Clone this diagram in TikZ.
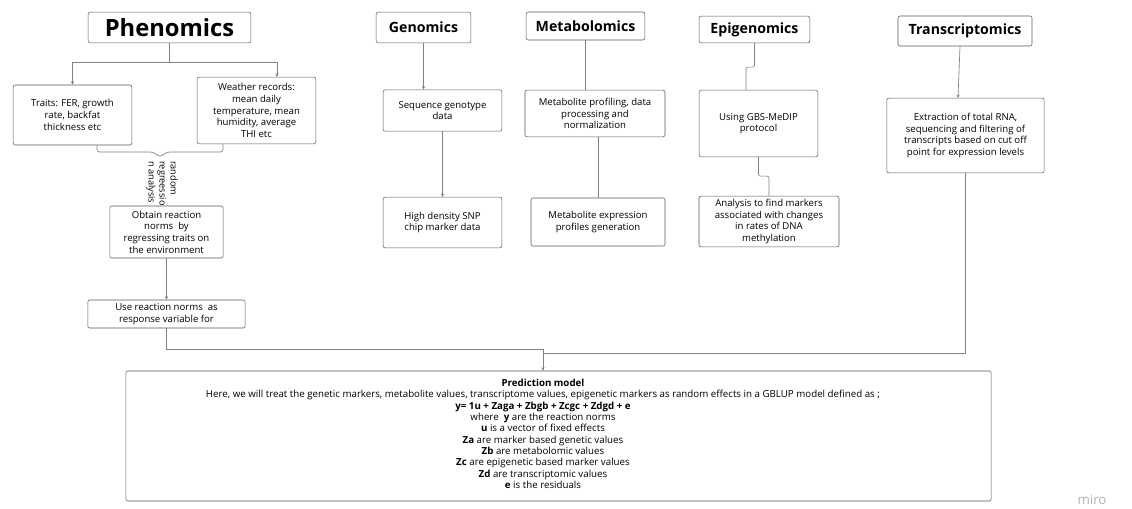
\documentclass[tikz,border=0pt]{standalone}
\usepackage{fontspec}
\setmainfont{Open Sans}
\usetikzlibrary{arrows.meta,calc,positioning}

\begin{document}
\begin{tikzpicture}[x=0.75pt, y=-0.75pt,
    box/.style={draw=black!65, rounded corners=1.5pt, align=center, inner sep=2pt,
                font=\fontsize{7.2}{8.8}\selectfont},
    headbox/.style={box, font=\fontsize{10.6}{12}\selectfont\bfseries},
    link/.style={draw=black!50, line width=0.5pt},
    arr/.style={link, -{Stealth[length=2.6pt, width=2.4pt]}}]
    \useasboundingbox (0,0) rectangle (1132,508);

    % Phenomics branch
    \node[headbox, font=\fontsize{17.8}{20}\selectfont\bfseries, minimum width=122pt, minimum height=23pt] (phen) at (169.5,27.5) {Phenomics};
    \node[box, minimum width=89pt, minimum height=45pt] (traits) at (72.5,115) {Traits: FER, growth\\rate, backfat\\thickness etc};
    \node[box, minimum width=89pt, minimum height=50pt] (weather) at (256.5,110.5) {Weather records:\\mean daily\\temperature, mean\\humidity, average\\THI etc};
    \coordinate (phsplit) at (169.5,62);
    \draw[link] (phen.south) -- (phsplit);
    \draw[arr] (phsplit) -| (traits.north);
    \draw[arr] (phsplit) -| ($(weather.north)+(20.5,0)$);

    % brace joining traits and weather
    \coordinate (bracetip) at (160,157);
    \draw[link, rounded corners=2pt] ($(traits.south)+(24.5,0)$) |- ($(bracetip)+(-7,-5)$) -- (bracetip)
        -- ($(bracetip)+(7,-5)$) -| ($(weather.south)+(-33.5,0)$);
    \node[rotate=-90, anchor=west, align=left, inner sep=0pt, font=\fontsize{6.9}{8.2}\selectfont] (rra) at (162,161) {random\\regreessio\\n analysis};

    \node[box, minimum width=85pt, minimum height=39pt] (obtain) at (166.5,232) {Obtain reaction\\norms\ \ by\\regressing traits on\\the environment};
    \node[box, minimum width=118pt, minimum height=21pt] (use) at (166.5,314) {Use reaction norms\ \ as\\response variable for};
    \draw[arr] (obtain) -- (use);

    % Genomics branch
    \node[headbox, minimum width=71pt, minimum height=23pt] (gen) at (423.5,27.5) {Genomics};
    \node[box, minimum width=89pt, minimum height=31pt] (seq) at (442.5,110.5) {Sequence genotype\\data};
    \node[box, minimum width=89pt, minimum height=38pt] (snp) at (442.5,222.5) {High density SNP\\chip marker data};
    \draw[arr] (gen.south) -- (gen.south |- seq.north);
    \draw[arr] (seq) -- (snp);

    % Metabolomics branch
    \node[headbox, minimum width=89pt, minimum height=21pt] (met) at (585.5,26) {Metabolomics};
    \node[box, minimum width=105pt, minimum height=35pt] (metprof) at (595,113.5) {Metabolite profiling, data\\processing and\\normalization};
    \node[box, minimum width=100.5pt, minimum height=36pt] (metexp) at (598,222) {Metabolite expression\\profiles generation};
    \draw[link] (met.south) -- (met.south |- metprof.north);
    \draw[link] (metexp.north |- metprof.south) -- (metexp.north);

    % Epigenomics branch
    \node[headbox, minimum width=83pt, minimum height=20pt] (epi) at (754.5,29.5) {Epigenomics};
    \node[box, minimum width=89pt, minimum height=50pt] (gbs) at (758.5,123.5) {Using GBS-MeDIP\\protocol};
    \node[box, minimum width=105pt, minimum height=38pt] (ana) at (769,221.5) {Analysis to find markers\\associated with changes\\in rates of DNA\\methylation};
    \draw[link, rounded corners=1.5pt] (epi.south) -- ++(0,24) -| ($(gbs.north)+(-12.5,0)$);
    \draw[link, rounded corners=1.5pt] (gbs.south) -- ++(0,19) -| (ana.north);

    % Transcriptomics branch
    \node[headbox, minimum width=100.5pt, minimum height=22.5pt] (trans) at (965,31) {Transcriptomics};
    \node[box, minimum width=118pt, minimum height=56pt] (ext) at (965.5,135.5) {Extraction of total RNA,\\sequencing and filtering of\\transcripts based on cut off\\point for expression levels};
    \draw[arr] ($(trans.south)+(-5,0)$) -- ($(ext.north)+(-7.5,0)$);

    % Prediction model
    \node[box, minimum width=649pt, minimum height=97.5pt] (pred) at (558.5,436) {};
    \node[align=center, inner sep=0pt, font=\fontsize{7.3}{8.5}\selectfont] (predtxt) at (543,434)
        {\textbf{Prediction model}\\
         Here, we will treat the genetic markers, metabolite values, transcriptome values, epigenetic markers as random effects in a GBLUP model defined as ;\\
         \textbf{y= 1u + Zaga + Zbgb + Zcgc + Zdgd + e}\\
         where\ \ \textbf{y} are the reaction norms\\
         \textbf{u} is a vector of fixed effects\\
         \textbf{Za} are marker based genetic values\\
         \textbf{Zb} are metabolomic values\\
         \textbf{Zc} are epigenetic based marker values\\
         \textbf{Zd} are transcriptomic values\\
         \textbf{e} is the residuals};
    \coordinate (mrgl) at (543,349);
    \coordinate (mrgr) at (543,353);
    \draw[arr] (use.south) |- (mrgl) -- (mrgl |- pred.north);
    \draw[link] (ext.south) |- (mrgr);

    \node[text=black!30, font=\fontsize{10}{11}\selectfont] (miro) at (1092,500) {miro};
\end{tikzpicture}
\end{document}
